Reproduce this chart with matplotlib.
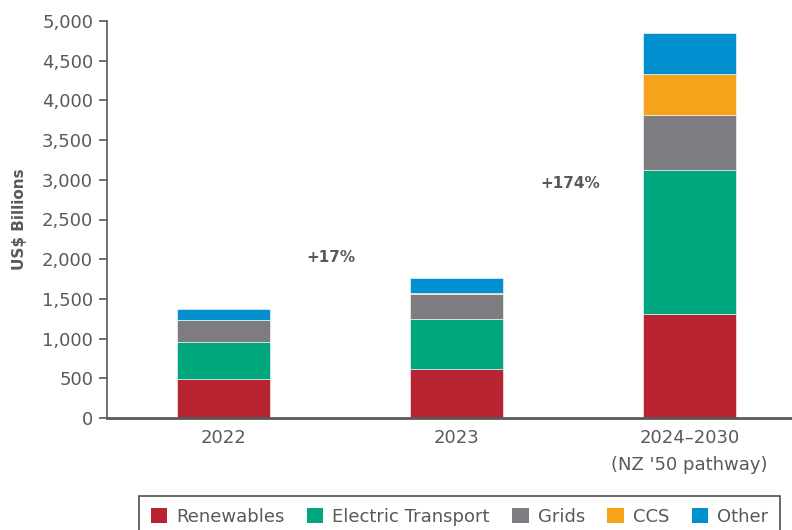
import matplotlib
matplotlib.use("Agg")
import matplotlib.pyplot as plt
from matplotlib.patches import Patch
import numpy as np

plt.rcParams['font.family'] = ['DejaVu Sans']

# valores (US$ miles de millones)
periodos = ["2022", "2023", "2024\u20132030\n(NZ '50 pathway)"]
series = ["Renewables", "Electric Transport", "Grids", "CCS", "Other"]
renovables = [490, 615, 1310]
transporte = [470, 630, 1810]
redes = [277, 320, 700]
ccs = [0, 6, 515]
otros = [142, 195, 515]
colores = ["#B72330", "#00A67E", "#7D7C81", "#F7A21B", "#0090D0"]
anotaciones = ["+17%", "+174%"]
pos_anotaciones = [(0.46, 2020), (1.49, 2950)]

gris = "#595959"

fig = plt.figure(figsize=(7.92, 5.30), dpi=100)
ax = fig.add_axes([107/792, 112/530, 1 - 107/792, 397/530])

x = np.arange(len(periodos))
base = np.zeros(len(periodos))
for nombre, valores, color in zip(series, [renovables, transporte, redes, ccs, otros], colores):
    ax.bar(x, valores, width=0.4, bottom=base, color=color, edgecolor="white", linewidth=0.4)
    base += np.array(valores)

ax.set_xlim(-0.5, 2.44)
ax.set_ylim(0, 5000)
ax.set_yticks(range(0, 5001, 500))
ax.set_yticklabels([f"{v:,}" for v in range(0, 5001, 500)])
ax.set_xticks(x)
ax.set_xticklabels(periodos, linespacing=1.65)

ax.tick_params(axis='y', direction='out', length=6, width=1.2, color=gris, labelcolor=gris, labelsize=13, pad=4)
ax.tick_params(axis='x', length=0, labelcolor=gris, labelsize=13, pad=8)

for lado in ["top", "right"]:
    ax.spines[lado].set_visible(False)
ax.spines["left"].set_color(gris)
ax.spines["left"].set_linewidth(1.2)
ax.spines["bottom"].set_color(gris)
ax.spines["bottom"].set_linewidth(2)

ax.set_ylabel("US$ Billions", fontsize=11, fontweight="bold", color=gris)
ax.yaxis.set_label_coords(-80/685, 0.5)

# crecimiento entre periodos
for texto, (px, py) in zip(anotaciones, pos_anotaciones):
    ax.text(px, py, texto, ha="center", va="center", fontsize=11, fontweight="bold", color=gris)

manijas = [Patch(facecolor=c, edgecolor="none") for c in colores]
leg = fig.legend(manijas, series, loc="upper left", bbox_to_anchor=(139/792, 1 - 496/530),
                 ncol=5, frameon=True, fancybox=False, edgecolor="#222222", fontsize=13,
                 handlelength=0.9, handleheight=0.9, handletextpad=0.5, columnspacing=1.25,
                 borderpad=0.65, borderaxespad=0, labelcolor=gris)
leg.get_frame().set_linewidth(1.2)

fig.savefig("out.png", dpi=100)
